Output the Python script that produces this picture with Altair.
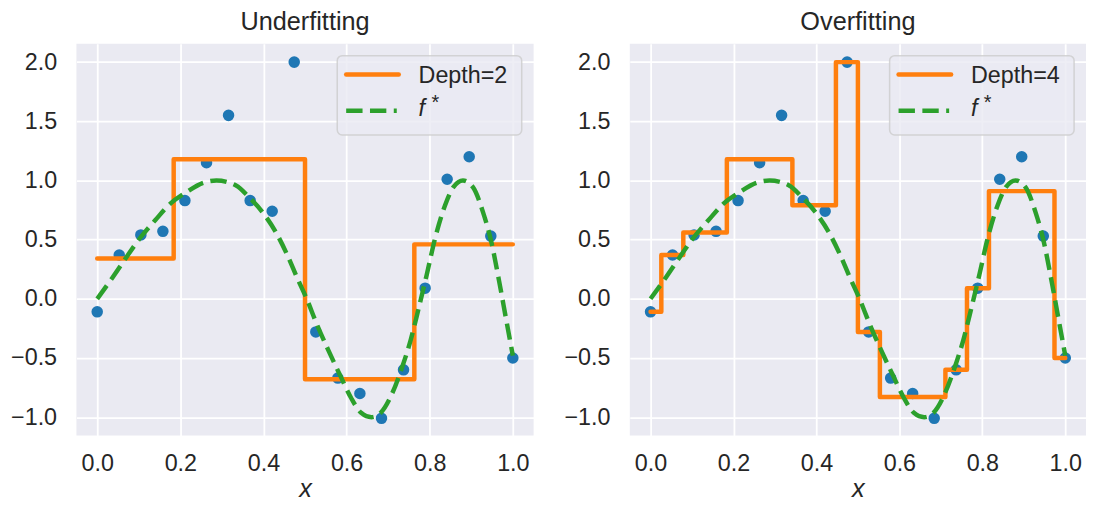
import altair as alt
import pandas as pd

# ---- data ----
x_pts = [0.0, 0.053, 0.105, 0.158, 0.211, 0.263, 0.316, 0.368, 0.421, 0.474,
         0.526, 0.579, 0.632, 0.684, 0.737, 0.789, 0.842, 0.895, 0.947, 1.0]
y_pts = [-0.11, 0.37, 0.54, 0.57, 0.83, 1.15, 1.55, 0.83, 0.74, 2.0,
         -0.28, -0.67, -0.80, -1.01, -0.60, 0.09, 1.01, 1.20, 0.53, -0.50]

f_x = [0.0, 0.037, 0.069, 0.104, 0.140, 0.176, 0.215, 0.255, 0.287, 0.334,
       0.365, 0.397, 0.429, 0.457, 0.481, 0.504, 0.528, 0.556, 0.584, 0.611,
       0.635, 0.660, 0.682, 0.710, 0.734, 0.754, 0.774, 0.793, 0.813, 0.837,
       0.857, 0.880, 0.904, 0.928, 0.948, 0.967, 0.983, 1.0]
f_y = [0.0, 0.18, 0.345, 0.518, 0.666, 0.805, 0.902, 0.98, 1.0, 0.958,
       0.86, 0.735, 0.568, 0.373, 0.178, 0.0, -0.211, -0.434, -0.643, -0.838,
       -0.963, -1.0, -0.963, -0.797, -0.574, -0.351, -0.072, 0.206, 0.512, 0.791,
       0.944, 1.0, 0.944, 0.735, 0.485, 0.15, -0.156, -0.48]

d2_breaks = [0.0, 0.184, 0.5, 0.763, 1.0]
d2_values = [0.34, 1.18, -0.68, 0.46]
d4_breaks = [0.0, 0.026, 0.079, 0.184, 0.342, 0.447, 0.5, 0.553, 0.711,
             0.763, 0.816, 0.974, 1.0]
d4_values = [-0.11, 0.37, 0.56, 1.18, 0.79, 2.0, -0.28, -0.83, -0.60,
             0.09, 0.91, -0.50]

x_ticks = [0.0, 0.2, 0.4, 0.6, 0.8, 1.0]
y_ticks = [-1.0, -0.5, 0.0, 0.5, 1.0, 1.5, 2.0]
titles = ["Underfitting", "Overfitting"]
legend_labels = ["Depth=2", "Depth=4"]

FONT = "Liberation Sans"
TXT = "#262626"
BLUE, ORANGE, GREEN = "#1f77b4", "#ff7f0e", "#2ca02c"

pts_df = pd.DataFrame({"x": x_pts, "y": y_pts})
f_df = pd.DataFrame({"x": f_x, "y": f_y})


def step_df(breaks, values):
    rows = []
    for i, v in enumerate(values):
        rows.append({"x": breaks[i], "y": v, "o": 2 * i})
        rows.append({"x": breaks[i + 1], "y": v, "o": 2 * i + 1})
    return pd.DataFrame(rows)


xs = alt.Scale(domain=[-0.05, 1.05], nice=False, zero=False)
ys = alt.Scale(domain=[-1.155, 2.155], nice=False, zero=False)


def panel(title, label, sdf, width):
    xenc = alt.X("x:Q", scale=xs,
                 axis=alt.Axis(values=x_ticks, format=".1f", title="x",
                               titleFontStyle="italic"))
    yenc = alt.Y("y:Q", scale=ys,
                 axis=alt.Axis(values=y_ticks, format=".1f", title=None))
    pts = alt.Chart(pts_df).mark_circle(size=135, color=BLUE, opacity=1).encode(x=xenc, y=yenc)
    step = alt.Chart(sdf).mark_line(color=ORANGE, strokeWidth=4.5, strokeCap="round",
                                    strokeJoin="round").encode(x=xenc, y=yenc, order="o:Q")
    fstar = alt.Chart(f_df).mark_line(color=GREEN, strokeWidth=4.5, strokeDash=[16.5, 7.5],
                                      interpolate="monotone").encode(x=xenc, y=yenc)
    # legend drawn as marks, placed in pixel space at the top right
    L = width - 198
    box = alt.Chart().mark_rect(fill="#EAEAF2", fillOpacity=0.8, stroke="#CCCCCC",
                                strokeOpacity=0.8, strokeWidth=1.5, cornerRadius=5).encode(
        x=alt.value(L), x2=alt.value(L + 186), y=alt.value(12), y2=alt.value(92))
    r1 = alt.Chart().mark_rule(color=ORANGE, strokeWidth=4.5, strokeCap="round").encode(
        x=alt.value(L + 9), x2=alt.value(L + 62), y=alt.value(31))
    r2 = alt.Chart().mark_rule(color=GREEN, strokeWidth=4.5, strokeDash=[16.5, 7.5]).encode(
        x=alt.value(L + 9), x2=alt.value(L + 60), y=alt.value(67.5))
    t1 = alt.Chart().mark_text(text=label, align="left", baseline="alphabetic", font=FONT,
                               fontSize=23.5, color=TXT).encode(x=alt.value(L + 82), y=alt.value(40))
    t2 = alt.Chart().mark_text(text="f", align="left", baseline="alphabetic", font=FONT,
                               fontSize=23.5, fontStyle="italic", color=TXT).encode(
        x=alt.value(L + 82), y=alt.value(73))
    t3 = alt.Chart().mark_text(text="*", align="left", baseline="alphabetic", font=FONT,
                               fontSize=20, color=TXT).encode(x=alt.value(L + 95), y=alt.value(66))
    return alt.layer(pts, step, fstar, box, r1, r2, t1, t2, t3).properties(
        width=width, height=395,
        title=alt.TitleParams(title, fontSize=25.5, font=FONT, color=TXT,
                              fontWeight="normal", offset=8))


left = panel(titles[0], legend_labels[0], step_df(d2_breaks, d2_values), 461)
right = panel(titles[1], legend_labels[1], step_df(d4_breaks, d4_values), 460)

chart = alt.hconcat(left, right, spacing=30).properties(
    padding={"left": 2, "top": 0, "right": 0, "bottom": 0}
).configure_view(
    fill="#EAEAF2", stroke=None
).configure_axis(
    domain=False, ticks=False, grid=True, gridColor="white", gridWidth=1.8,
    labelFont=FONT, labelFontSize=23.5, labelColor=TXT,
    titleFont=FONT, titleFontSize=25.5, titleColor=TXT, titleFontWeight="normal"
).configure_axisY(
    labelPadding=20
).configure_axisX(
    labelPadding=16, titlePadding=2
)

chart.save("out.html", embed_options={"renderer": "svg", "actions": False})
